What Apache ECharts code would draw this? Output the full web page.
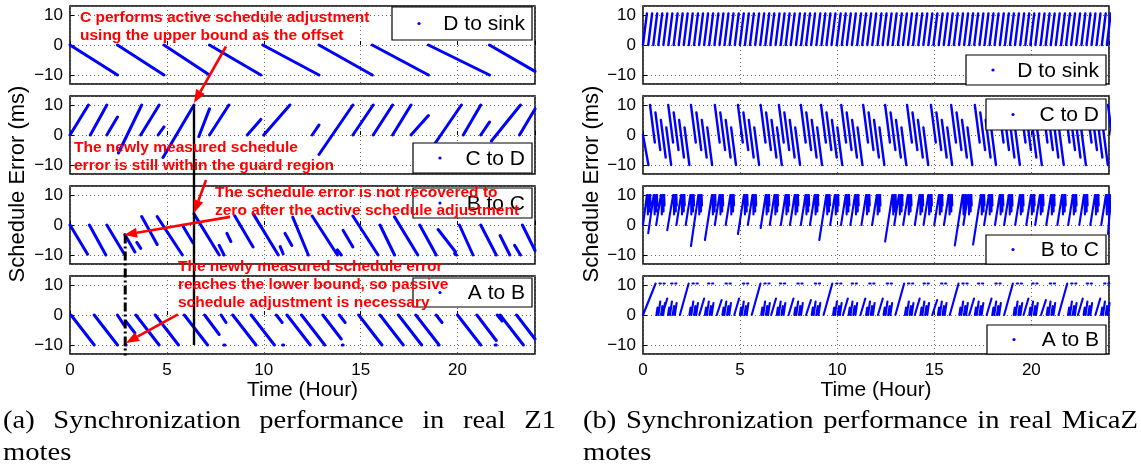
<!DOCTYPE html>
<html>
<head>
<meta charset="utf-8">
<script src="https://cdn.jsdelivr.net/npm/echarts@6/dist/echarts.min.js"></script>
<style>
html, body { margin: 0; padding: 0; background: #fff; }
#main { width: 1141px; height: 473px; }
</style>
</head>
<body>
<div id="main"></div>
<script>
var panelNames = ['D to sink', 'C to D', 'B to C', 'A to B'];
var xTicks = [0, 5, 10, 15, 20];

// (a) Z1 motes, segments: [t0, v0, t1, v1] (hours, ms)
var aDsink = [
	[0.0, 0, 2.45, -10], [2.45, 0, 4.85, -10], [4.85, 0, 7.2, -10],
	[7.2, 0, 9.85, -10], [9.95, 0, 12.85, -10], [12.85, 0, 15.6, -10],
	[15.6, 0, 18.5, -10], [18.5, 0, 21.65, -10], [21.65, 0, 24.0, -8.8]
];
var aCtoD = [
	[0.0, 0, 0.95, 10], [1.05, 0, 1.9, 10], [1.9, 0, 2.45, 6], [2.5, -6, 3.7, 10],
	[3.65, 0, 4.6, 10], [4.55, 0, 4.85, 2.7], [4.8, -7.5, 6.4, 10], [6.65, -0.5, 7.2, 8.7],
	[7.2, 0, 8.2, 10], [9.15, 0, 9.85, 5.2], [10.0, 0, 11.35, 10], [12.5, 0, 12.85, 3.3],
	[12.85, -6.5, 14.6, 10], [14.6, 0, 15.65, 10], [15.65, 0, 16.65, 10], [16.65, 0, 17.6, 10],
	[17.6, 0, 18.5, 6.5], [18.5, -6, 20.2, 10], [20.3, 0, 21.2, 10], [21.2, 0, 21.65, 4.3],
	[21.75, -2, 23.25, 10], [23.2, 0, 24.0, 8.7]
];
var aBtoC = [
	[0.0, 0, 0.9, -9.7], [1.0, 0, 1.85, -10], [1.9, 0, 2.83, -10], [2.83, -3.2, 3.35, -9],
	[3.45, -5.8, 3.65, -7.8], [3.7, 2.8, 4.5, -6.5], [4.5, 2.8, 5.8, -10], [5.85, -0.6, 6.35, -6],
	[6.4, 3.7, 7.7, -10], [7.7, -6.8, 7.95, -10], [8.1, -2.8, 8.3, -5.5], [8.5, 3.1, 9.45, -7.3],
	[9.45, 3.8, 10.75, -10], [10.85, -7.2, 11.0, -9.6], [11.1, -2.8, 11.45, -6.8], [11.5, 2.6, 12.3, -10],
	[12.5, 3, 13.8, -10], [13.8, -8.3, 14.0, -10], [14.1, -1.8, 14.6, -7.3], [14.6, 3, 15.9, -10],
	[16.0, 0, 16.75, -10], [16.75, 2.7, 17.95, -10], [18.05, 0, 18.9, -10], [19.0, -1.5, 19.9, -9],
	[19.85, -9.5, 19.95, -10], [20.1, 0, 20.8, -10], [21.2, 0, 22.0, -10], [22.2, -3.5, 22.7, -10],
	[22.95, -6.8, 23.25, -10], [23.35, 0, 24.0, -8.5]
];
var aAtoB = [
	[0.05, 0, 1.25, -10], [1.25, 0, 2.45, -10], [2.45, 0, 2.8, -3.5], [2.84, -10, 2.9, -10],
	[2.9, -2.2, 3.35, -6], [3.4, 0, 4.6, -10], [4.4, 0, 5.6, -10], [5.9, 0, 7.1, -10],
	[6.95, 0, 7.7, -6.5], [7.8, 0, 8.05, -2.5], [7.94, -10, 8.0, -10], [8.4, 0, 9.6, -10],
	[9.35, 0, 10.55, -10], [10.65, 0, 10.95, -2.5], [10.97, -10, 11.03, -10], [11.2, 0, 12.4, -10],
	[11.95, 0, 13.15, -10], [13.05, 0, 14.0, -8], [13.9, 0, 14.2, -2.5], [14.05, -10, 14.1, -10],
	[14.9, 0, 16.1, -10], [16.0, 0, 17.2, -10], [16.95, 0, 18.15, -10], [17.85, 0, 19.05, -10],
	[18.9, 0, 19.2, -2.5], [19.0, -10, 19.05, -10], [20.0, 0, 21.2, -10], [21.0, 0, 22.0, -8.5],
	[22.05, 0, 22.3, -2], [21.94, -10, 22.0, -10], [22.2, 0, 23.4, -10], [23.05, 0, 24.0, -8]
];

// (b) MicaZ motes: repeated patterns, start times
var bDsinkStarts = [0.00, 0.27, 0.53, 0.79, 1.05, 1.31, 1.58, 1.84, 2.10, 2.36, 2.63, 2.89, 3.15, 3.41,
	3.68, 3.94, 4.20, 4.46, 4.73, 4.99, 5.25, 5.51, 5.78, 6.04, 6.30, 6.56, 6.83, 7.09, 7.35, 7.61,
	7.88, 8.14, 8.40, 8.66, 8.93, 9.19, 9.45, 9.71, 9.98, 10.24, 10.50, 10.76, 11.03, 11.29, 11.55,
	11.81, 12.08, 12.34, 12.60, 12.86, 13.13, 13.39, 13.65, 13.91, 14.18, 14.44, 14.70, 14.96, 15.23,
	15.49, 15.75, 16.01, 16.28, 16.54, 16.80, 17.06, 17.33, 17.59, 17.85, 18.11, 18.38, 18.64, 18.90,
	19.16, 19.43, 19.69, 19.95, 20.21, 20.48, 20.74, 21.00, 21.26, 21.53, 21.79, 22.05, 22.31, 22.58,
	22.84, 23.10, 23.36, 23.63, 23.89];
var bDsinkShape = [[0, 0, 0.2, 10.5]];

var bCtoDStarts = [0.36, 1.30, 2.47, 3.70, 4.89, 6.06, 7.00, 8.13, 9.17, 10.21, 11.34, 12.47,
	13.60, 14.83, 15.87, 17.09, 18.32, 19.45, 20.58, 21.72, 22.85, 23.95];
var bCtoDShape = [[0, 10, 0.25, -2.5], [0.28, 7.5, 0.53, -5], [0.56, 5, 0.81, -7.5],
	[0.84, 2.5, 1.09, -10], [1.12, 0, 1.14, 0]];
var bCtoDExtra = [[0, 0, 0.28, -10]];

// [rise start, start value, rise end]
var bBtoCRises = [[0.0, 0, 0.2], [0.27, -2.7, 0.55], [0.68, 0, 0.92], [1.25, -1.7, 1.55], [1.72, 0, 1.96],
	[2.2, 0, 2.44], [2.47, -7, 2.85], [3.19, -5, 3.55], [3.7, 0, 3.94], [4.26, 0, 4.5], [4.89, -3, 5.2],
	[5.4, 0, 5.64], [6.06, -1, 6.32], [6.53, 0, 6.77], [7.1, 0, 7.34], [7.57, 0, 7.81], [8.13, 0, 8.37],
	[8.6, 0, 8.84], [9.08, -5, 9.44], [9.64, 0, 9.88], [10.2, 0, 10.44], [10.68, 0, 10.92], [11.25, 0, 11.49],
	[11.8, 0, 12.04], [12.47, -5.5, 12.84], [12.94, 0, 13.18], [13.4, 0, 13.64], [14.0, 0, 14.24],
	[14.45, 0, 14.69], [15.0, 0, 15.24], [15.5, 0, 15.74], [16.06, -6.8, 16.46], [16.5, 0, 16.74],
	[17.0, -6.5, 17.4], [17.57, 0, 17.81], [18.13, 0, 18.37], [18.6, 0, 18.84], [19.17, 0, 19.41],
	[19.74, 0, 19.98], [20.2, 0, 20.44], [20.77, 0, 21.01], [21.34, 0, 21.58], [21.9, 0, 22.14],
	[22.47, 0, 22.71], [23.04, 0, 23.28], [23.6, 0, 23.84], [23.95, -3, 24.1]];
// after each rise (offsets from rise end)
var bBtoCTail = [[0, 10, 0.05, 10], [0.03, 10, 0.05, 3.5],
	[0.12, 10, 0.18, 10], [0.13, 10, 0.14, 4.5], [0.17, 10, 0.19, 6.5]];

// [rise start, rise end, peak]
var bAtoBRises = [[0.0, 0.65, 10.5], [1.0, 1.25, 5.5], [1.9, 2.35, 10.5], [2.9, 3.15, 5.5], [3.8, 4.05, 5],
	[4.7, 4.95, 5.5], [5.6, 6.05, 10.5], [6.6, 6.85, 5.5], [7.5, 7.75, 5.5], [8.4, 8.65, 5],
	[9.3, 9.75, 10.5], [10.3, 10.55, 5.5], [11.2, 11.45, 5.5], [12.1, 12.35, 5.5], [13.0, 13.45, 10.5],
	[14.0, 14.25, 5.5], [14.9, 15.15, 5], [15.8, 16.25, 10.5], [16.8, 17.05, 5.5], [17.7, 17.95, 5.5],
	[18.6, 19.05, 10.5], [19.6, 19.85, 5.5], [20.5, 20.75, 5], [21.4, 21.85, 10.5], [22.4, 22.65, 5.5],
	[23.3, 23.55, 5.5]];
var bAtoBTail = [[0.04, 0, 0.1, 2.5], [0.14, 0, 0.24, 4.5], [0.28, 0, 0.35, 3], [0.39, 0, 0.48, 4],
	[0.08, 10.5, 0.11, 10.5], [0.2, 10.5, 0.27, 10.5], [0.33, 10.5, 0.35, 10.5], [0.41, 10.5, 0.47, 10.5]];

function fromStarts(starts, shape) {
	var out = [];
	for (var i = 0; i < starts.length; i++) {
		for (var j = 0; j < shape.length; j++) {
			var s = shape[j];
			out.push([starts[i] + s[0], s[1], starts[i] + s[2], s[3]]);
		}
	}
	return out;
}

var bDsink = fromStarts(bDsinkStarts, bDsinkShape);
var bCtoD = bCtoDExtra.concat(fromStarts(bCtoDStarts, bCtoDShape));
var bBtoC = [];
for (var i = 0; i < bBtoCRises.length; i++) {
	var r = bBtoCRises[i];
	bBtoC.push([r[0], r[1], r[2], 10]);
	bBtoC = bBtoC.concat(fromStarts([r[2]], bBtoCTail));
}
var bAtoB = [];
for (var i = 0; i < bAtoBRises.length; i++) {
	var r = bAtoBRises[i];
	bAtoB.push([r[0], 0, r[1], r[2]]);
	bAtoB = bAtoB.concat(fromStarts([r[1]], bAtoBTail));
}

var panelData = [[aDsink, aCtoD, aBtoC, aAtoB], [bDsink, bCtoD, bBtoC, bAtoB]];
var lineWidths = [[3, 3, 3, 3], [2.4, 2.4, 2.1, 2.1]];

// pixel layout
var gridTops = [6, 96, 186, 276];
var gridH = 78;
var panelLeft = [70, 643];
var panelW = [465, 466];

var segData = function(segs) {
	var out = [];
	for (var i = 0; i < segs.length; i++) {
		var s = segs[i];
		out.push([s[0], s[1]]);
		out.push([s[2], s[3]]);
		out.push([s[2], '-']);
	}
	return out;
};

var grids = [], xAxes = [], yAxes = [], series = [];
var font = 'Liberation Sans';
for (var p = 0; p < 2; p++) {
	for (var k = 0; k < 4; k++) {
		var g = p * 4 + k;
		var last = (k == 3);
		grids.push({
			left : panelLeft[p],
			top : gridTops[k],
			width : panelW[p],
			height : gridH,
			show : true,
			borderColor : '#000',
			borderWidth : 1.5,
			backgroundColor : 'transparent'
		});
		xAxes.push({
			type : 'value',
			gridIndex : g,
			min : 0,
			max : 24,
			interval : 5,
			axisLine : { show : false },
			axisTick : { show : true, inside : true, length : 4, lineStyle : { color : '#000' } },
			axisLabel : {
				show : last, showMaxLabel : false, margin : 8,
				fontFamily : font, fontSize : 17, color : '#000'
			},
			splitLine : { show : true, lineStyle : { color : '#666', type : [1, 3], width : 1 } },
			name : last ? 'Time (Hour)' : '',
			nameLocation : 'middle',
			nameGap : 24,
			nameTextStyle : { fontFamily : font, fontSize : 21, color : '#000' }
		});
		yAxes.push({
			type : 'value',
			gridIndex : g,
			min : -13,
			max : 13,
			splitNumber : 2,
			axisLine : { show : false },
			axisTick : { show : true, inside : true, length : 4, lineStyle : { color : '#000' } },
			axisLabel : {
				showMinLabel : false, showMaxLabel : false, margin : 7,
				fontFamily : font, fontSize : 17, color : '#000',
				formatter : function(v) { return String(v).replace('-', '\u2212'); }
			},
			splitLine : { show : true, lineStyle : { color : '#666', type : [1, 3], width : 1 } }
		});
		series.push({
			name : panelNames[k],
			type : 'line',
			xAxisIndex : g,
			yAxisIndex : g,
			data : segData(panelData[p][k]),
			showSymbol : false,
			connectNulls : false,
			clip : true,
			silent : true,
			lineStyle : { color : '#0000ff', width : lineWidths[p][k], cap : 'round' },
			z : 3
		});
	}
}

// legends: [x, y, w, h, label]
var legendBoxes = [
	[392, 7, 140, 33, 'D to sink'], [413, 143, 119, 30, 'C to D'],
	[413, 188, 119, 30, 'B to C'], [413, 278, 119, 29, 'A to B'],
	[966, 55, 140, 30, 'D to sink'], [986, 99, 120, 31, 'C to D'],
	[986, 235, 120, 29, 'B to C'], [987, 325, 119, 29, 'A to B']
];

var redNotes = [
	[80, 18, 'C performs active schedule adjustment'],
	[80, 36, 'using the upper bound as the offset'],
	[74, 148, 'The newly measured schedule'],
	[74, 166, 'error is still within the guard region'],
	[215, 193, 'The schedule error is not recovered to'],
	[215, 211, 'zero after the active schedule adjustment'],
	[178, 267, 'The newly measured schedule error'],
	[178, 285, 'reaches the lower bound, so passive'],
	[178, 303, 'schedule adjustment is necessary']
];

// arrows in data coords: [grid, t, v] tail -> tip
var redArrows = [
	[[0, 8.05, -0.5], [1, 6.4, 10.7]],
	[[2, 7.02, 15], [2, 6.4, 4]],
	[[2, 8.26, 2.7], [2, 2.79, -3.3]],
	[[3, 5.57, 0.2], [3, 2.89, -9.3]]
];
var activeLine = [[1, 6.4, 10], [3, 6.4, -10]];
var passiveLine = [[2, 2.85, -3.2], [3, 2.85, -13.5]];

var captions = [
	{ x0 : 3, x1 : 556, y : 421, words : ['(a)', 'Synchronization', 'performance', 'in', 'real', 'Z1'] },
	{ x0 : 3, x1 : null, y : 453, words : ['motes'] },
	{ x0 : 583, x1 : 1138, y : 421, words : ['(b)', 'Synchronization', 'performance', 'in', 'real', 'MicaZ'] },
	{ x0 : 583, x1 : null, y : 453, words : ['motes'] }
];

var chart = echarts.init(document.getElementById('main'));
chart.setOption({
	animation : false,
	backgroundColor : '#fff',
	grid : grids,
	xAxis : xAxes,
	yAxis : yAxes,
	series : series
});

function px(pt) {
	return chart.convertToPixel({ xAxisIndex : pt[0], yAxisIndex : pt[0] }, [pt[1], pt[2]]);
}

function arrow(p0, p1) {
	var dx = p1[0] - p0[0], dy = p1[1] - p0[1];
	var len = Math.sqrt(dx * dx + dy * dy);
	var ux = dx / len, uy = dy / len, hl = 13, hw = 5;
	var bx = p1[0] - ux * hl, by = p1[1] - uy * hl;
	return [{
		type : 'line', z : 120,
		shape : { x1 : p0[0], y1 : p0[1], x2 : bx, y2 : by },
		style : { stroke : '#ff0000', lineWidth : 2.6 }
	}, {
		type : 'polygon', z : 120,
		shape : { points : [p1, [bx - uy * hw, by + ux * hw], [bx + uy * hw, by - ux * hw]] },
		style : { fill : '#ff0000' }
	}];
}

var buildGraphic = function() {
	var els = [];
	// vertical markers
	var a0 = px(activeLine[0]), a1 = px(activeLine[1]);
	els.push({ type : 'line', z : 100, shape : { x1 : a0[0], y1 : a0[1], x2 : a1[0], y2 : a1[1] },
		style : { stroke : '#000', lineWidth : 2.4 } });
	var d0 = px(passiveLine[0]), d1 = px(passiveLine[1]);
	els.push({ type : 'line', z : 100, shape : { x1 : d0[0], y1 : d0[1], x2 : d1[0], y2 : d1[1] },
		style : { stroke : '#000', lineWidth : 3, lineDash : [9, 3, 2, 3] } });

	for (var i = 0; i < legendBoxes.length; i++) {
		var b = legendBoxes[i];
		els.push({ type : 'rect', z : 105, shape : { x : b[0], y : b[1], width : b[2], height : b[3] },
			style : { fill : '#fff', stroke : '#000', lineWidth : 1.2 } });
		els.push({ type : 'circle', z : 106, shape : { cx : b[0] + 27, cy : b[1] + b[3] / 2, r : 1.6 },
			style : { fill : '#0000ff' } });
		els.push({ type : 'text', z : 106, x : b[0] + b[2] - 7, y : b[1] + b[3] / 2 + 1,
			style : { text : b[4], fill : '#000', font : '21px "Liberation Sans"',
				textAlign : 'right', textVerticalAlign : 'middle' } });
	}

	for (var i = 0; i < redArrows.length; i++) {
		els = els.concat(arrow(px(redArrows[i][0]), px(redArrows[i][1])));
	}
	for (var i = 0; i < redNotes.length; i++) {
		var n = redNotes[i];
		els.push({ type : 'text', z : 130, x : n[0], y : n[1],
			style : { text : n[2], fill : '#ff0000', font : 'bold 15.5px "Liberation Sans"',
				textAlign : 'left', textVerticalAlign : 'middle' } });
	}

	// y axis titles
	var yTitleX = [18, 592];
	for (var p = 0; p < 2; p++) {
		els.push({ type : 'text', z : 110, x : yTitleX[p], y : 184, rotation : Math.PI / 2,
			style : { text : 'Schedule Error (ms)', fill : '#000', font : '22px "Liberation Sans"',
				textAlign : 'center', textVerticalAlign : 'middle' } });
	}

	// captions, justified like the LaTeX subcaptions (slightly widened serif)
	var ctx = document.createElement('canvas').getContext('2d');
	var capFont = '26px "Liberation Serif"';
	var capScale = 1.1;
	ctx.font = capFont;
	for (var c = 0; c < captions.length; c++) {
		var cap = captions[c];
		var widths = [], total = 0;
		for (var w = 0; w < cap.words.length; w++) {
			widths.push(ctx.measureText(cap.words[w]).width * capScale);
			total += widths[w];
		}
		var gap = cap.x1 && cap.words.length > 1 ? (cap.x1 - cap.x0 - total) / (cap.words.length - 1) : 0;
		var x = cap.x0;
		for (var w = 0; w < cap.words.length; w++) {
			els.push({ type : 'text', z : 110, x : x, y : cap.y, scaleX : capScale,
				style : { text : cap.words[w], fill : '#000', font : capFont,
					textAlign : 'left', textVerticalAlign : 'middle' } });
			x += widths[w] + gap;
		}
	}
	return els;
};

chart.setOption({ graphic : buildGraphic() });
</script>
</body>
</html>
